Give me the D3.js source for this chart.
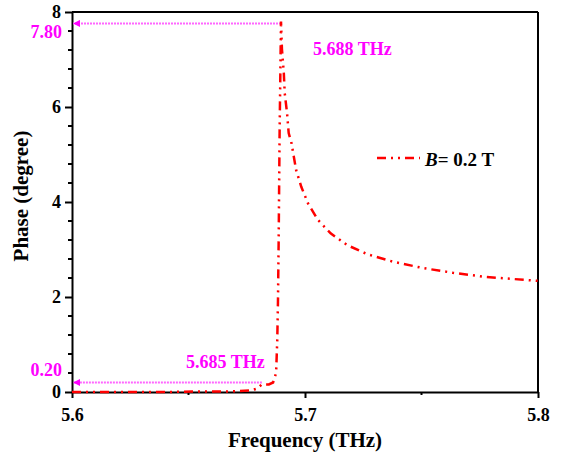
<!DOCTYPE html>
<html>
<head>
<meta charset="utf-8">
<script src="https://cdn.jsdelivr.net/npm/d3@7/dist/d3.min.js"></script>
<style>
  html, body { margin: 0; padding: 0; background: #fff; }
  svg { display: block; }
  text { font-family: "Liberation Serif", "Times New Roman", serif; font-weight: bold; }
</style>
</head>
<body>
<svg id="chart" width="565" height="458"></svg>
<script>
// ---- data ----
const frequency = [5.600, 5.620, 5.640, 5.655, 5.665, 5.672, 5.6764, 5.6794, 5.6815, 5.6845,
  5.6863, 5.6876, 5.6881, 5.6884, 5.6887, 5.6891, 5.6897, 5.6901, 5.6909, 5.6913,
  5.6923, 5.6930, 5.6942, 5.6962, 5.6984, 5.7013, 5.7056, 5.7110, 5.7182, 5.7268,
  5.7380, 5.7506, 5.7635, 5.7780, 5.8000];
const phase = [0.00, 0.00, 0.00, 0.01, 0.01, 0.02, 0.03, 0.07, 0.16, 0.16,
  0.20, 0.40, 1.10, 1.90, 3.20, 5.46, 7.80, 7.22, 6.72, 6.29,
  5.87, 5.45, 5.24, 4.67, 4.32, 3.97, 3.62, 3.34, 3.09, 2.90,
  2.74, 2.61, 2.51, 2.42, 2.34];
const xTicks = [5.6, 5.7, 5.8];
const xMinorTicks = [5.65, 5.75];
const yTicks = [0, 2, 4, 6, 8];
const seriesName = "= 0.2 T";
const seriesSymbol = "B";
// annotations: freq at arrow end, phase level, level label, freq label
const annotFreq = [5.6897, 5.6815];
const annotPhase = [7.76, 0.20];
const annotLevelLabels = ["7.80", "0.20"];
const annotFreqLabels = ["5.688 THz", "5.685 THz"];

// ---- layout ----
const svg = d3.select("#chart");
const m = { left: 72, right: 27, top: 12, bottom: 66 };
const W = 565, H = 458;
const x = d3.scaleLinear().domain([5.6, 5.8]).range([m.left, W - m.right]);
const y = d3.scaleLinear().domain([0, 8]).range([H - m.bottom, m.top]);
const magenta = "#ff00ff";
const dash = "9,5,2,5,2,5";

// defs: arrowhead
svg.append("defs").append("marker")
  .attr("id", "arrow").attr("viewBox", "0 0 10 10")
  .attr("refX", 10).attr("refY", 5)
  .attr("markerWidth", 10).attr("markerHeight", 7)
  .attr("markerUnits", "userSpaceOnUse")
  .attr("orient", "auto")
  .append("path").attr("d", "M0,0 L10,5 L0,10 Z").attr("fill", magenta);

// frame top/right
svg.append("line").attr("x1", x(5.6)).attr("x2", x(5.8)).attr("y1", y(8)).attr("y2", y(8))
  .attr("stroke", "#000").attr("stroke-width", 2);
svg.append("line").attr("x1", x(5.8)).attr("x2", x(5.8)).attr("y1", y(8)).attr("y2", y(0))
  .attr("stroke", "#000").attr("stroke-width", 2);

// axes
const xAxis = d3.axisBottom(x).tickValues(xTicks).tickFormat(d3.format(".1f")).tickSizeInner(6).tickSizeOuter(0).tickPadding(10);
const gx = svg.append("g").attr("transform", `translate(0,${y(0)})`).call(xAxis);
gx.selectAll(".tick line").attr("stroke-width", 2);
gx.select(".domain").attr("stroke-width", 2);
gx.selectAll("text").attr("font-size", 18).attr("fill", "#000")
  .style("font-family", "'Liberation Serif', serif").style("font-weight", "bold");
gx.selectAll(".minor").data(xMinorTicks).enter().append("line").attr("class", "minor")
  .attr("x1", d => x(d)).attr("x2", d => x(d)).attr("y1", 0).attr("y2", 3)
  .attr("stroke", "#000").attr("stroke-width", 2);

const yAxis = d3.axisLeft(y).tickValues(yTicks).tickFormat(d3.format("d")).tickSizeInner(7).tickSizeOuter(0).tickPadding(4);
const gy = svg.append("g").attr("transform", `translate(${x(5.6)},0)`).call(yAxis);
gy.selectAll(".tick line").attr("stroke-width", 2);
gy.select(".domain").attr("stroke-width", 2);
gy.selectAll("text").attr("font-size", 18).attr("fill", "#000")
  .style("font-family", "'Liberation Serif', serif").style("font-weight", "bold");
const yMinor = d3.range(0, 8.01, 0.4).filter(v => Math.abs(v / 2 - Math.round(v / 2)) > 1e-6);
gy.selectAll(".minor").data(yMinor).enter().append("line").attr("class", "minor")
  .attr("x1", -4).attr("x2", 0).attr("y1", d => y(d)).attr("y2", d => y(d))
  .attr("stroke", "#000").attr("stroke-width", 2);

// axis titles
svg.append("text").attr("x", (x(5.6) + x(5.8)) / 2).attr("y", 447)
  .attr("text-anchor", "middle").attr("font-size", 21).text("Frequency (THz)");
svg.append("text").attr("transform", `translate(28,196) rotate(-90)`)
  .attr("text-anchor", "middle").attr("font-size", 21).text("Phase (degree)");

// annotation arrows
annotFreq.forEach((f, i) => {
  svg.append("line")
    .attr("x1", x(f)).attr("x2", x(5.6) + 1)
    .attr("y1", y(annotPhase[i])).attr("y2", y(annotPhase[i]))
    .attr("stroke", "#ff66ff").attr("stroke-width", 2).attr("stroke-dasharray", "2,1")
    .attr("marker-end", "url(#arrow)");
});
// level labels (left of axis)
svg.append("text").attr("x", 62).attr("y", 38).attr("text-anchor", "end")
  .attr("font-size", 18).attr("fill", magenta).text(annotLevelLabels[0]);
svg.append("text").attr("x", 62).attr("y", 376).attr("text-anchor", "end")
  .attr("font-size", 18).attr("fill", magenta).text(annotLevelLabels[1]);
// frequency labels
svg.append("text").attr("x", 313).attr("y", 55).attr("font-size", 18)
  .attr("fill", magenta).text(annotFreqLabels[0]);
svg.append("text").attr("x", 186).attr("y", 368).attr("font-size", 18)
  .attr("fill", magenta).text(annotFreqLabels[1]);

// data line
const pts = frequency.map((f, i) => [f, phase[i]]);
const line = d3.line().x(d => x(d[0])).y(d => y(d[1]));
svg.append("path").datum(pts).attr("d", line)
  .attr("fill", "none").attr("stroke", "#ff0000").attr("stroke-width", 2.5)
  .attr("stroke-dasharray", dash);

// legend
svg.append("line").attr("x1", 377).attr("x2", 420).attr("y1", 158).attr("y2", 158)
  .attr("stroke", "#ff0000").attr("stroke-width", 2.5).attr("stroke-dasharray", dash);
const lt = svg.append("text").attr("x", 425).attr("y", 166).attr("font-size", 19);
lt.append("tspan").attr("font-style", "italic").text(seriesSymbol);
lt.append("tspan").text(seriesName);
</script>
</body>
</html>
